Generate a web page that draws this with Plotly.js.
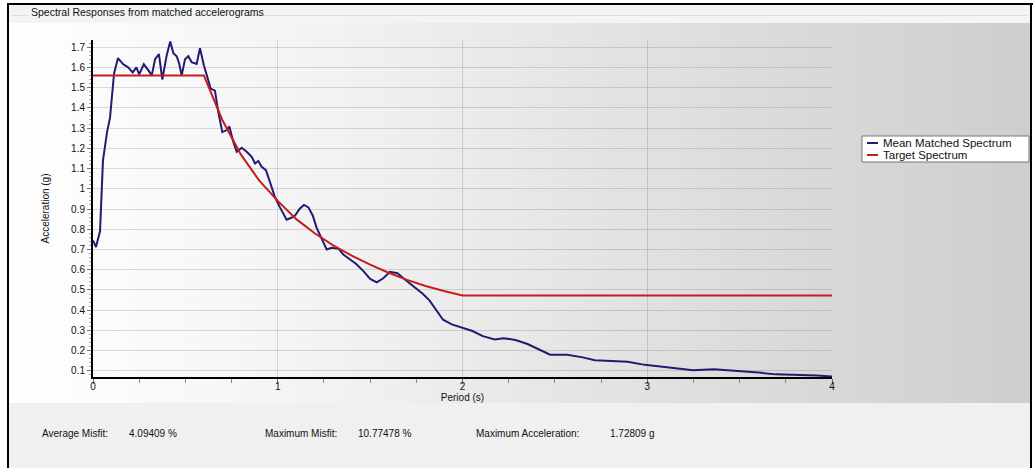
<!DOCTYPE html>
<html>
<head>
<meta charset="utf-8">
<script src="https://cdn.plot.ly/plotly-3.0.1.min.js"></script>
<style>
html,body{margin:0;padding:0;width:1033px;height:468px;overflow:hidden;background:#ffffff;}
.abs{position:absolute;}
#hdr{left:9px;top:5px;width:1021px;height:18px;background:#f4f4f4;}
#gbl1{left:12px;top:15px;width:16px;height:1px;background:#dcdcdc;}
#gbl2{left:247px;top:15px;width:780px;height:1px;background:#dcdcdc;}
#mid{left:9px;top:23px;width:1021px;height:380px;background:linear-gradient(to right,#ffffff 0%,#f3f3f3 30%,#dddddd 70%,#cecece 100%);}
#bot{left:9px;top:403px;width:1021px;height:65px;background:#f0f0f0;}
#btop{left:7px;top:3px;width:1026px;height:2px;background:#000;}
#bleft{left:7px;top:3px;width:2px;height:465px;background:#000;}
#bright{left:1030px;top:3px;width:2px;height:465px;background:#000;}
#chart{position:absolute;left:0;top:0;width:1033px;height:468px;}
</style>
</head>
<body>
<div class="abs" id="hdr"></div>
<div class="abs" id="gbl1"></div>
<div class="abs" id="gbl2"></div>
<div class="abs" id="mid"></div>
<div class="abs" id="bot"></div>
<div class="abs" id="btop"></div>
<div class="abs" id="bleft"></div>
<div class="abs" id="bright"></div>
<div id="chart"></div>
<script>
// Mean matched spectrum (period in s, acceleration in g)
const meanPeriod = [0.00,0.016,0.038,0.054,0.076,0.092,0.114,0.135,0.164,0.19,0.215,0.235,0.25,0.275,0.30,0.318,0.336,0.357,0.375,0.399,0.418,0.435,0.453,0.466,0.48,0.498,0.516,0.534,0.561,0.579,0.60,0.624,0.637,0.66,0.678,0.70,0.724,0.738,0.76,0.778,0.805,0.832,0.859,0.877,0.895,0.913,0.936,0.958,0.985,1.012,1.048,1.076,1.093,1.12,1.142,1.166,1.19,1.21,1.238,1.265,1.292,1.33,1.355,1.39,1.425,1.465,1.50,1.536,1.571,1.608,1.648,1.69,1.737,1.783,1.82,1.858,1.895,1.942,2.00,2.054,2.11,2.175,2.222,2.287,2.352,2.408,2.474,2.567,2.651,2.716,2.80,2.894,2.987,3.08,3.155,3.248,3.36,3.491,3.603,3.696,3.827,3.92,4.00];
const meanAccel = [0.745,0.712,0.79,1.14,1.28,1.35,1.57,1.645,1.615,1.60,1.575,1.60,1.565,1.615,1.585,1.56,1.64,1.665,1.54,1.66,1.728,1.67,1.655,1.62,1.56,1.64,1.655,1.625,1.617,1.695,1.61,1.53,1.495,1.485,1.38,1.28,1.29,1.308,1.23,1.183,1.203,1.183,1.158,1.125,1.137,1.108,1.092,1.033,0.958,0.908,0.847,0.858,0.867,0.903,0.92,0.908,0.867,0.808,0.75,0.70,0.708,0.703,0.675,0.65,0.628,0.592,0.555,0.538,0.558,0.59,0.583,0.55,0.517,0.483,0.45,0.40,0.353,0.33,0.313,0.297,0.272,0.255,0.262,0.253,0.233,0.208,0.18,0.18,0.167,0.153,0.15,0.145,0.13,0.12,0.113,0.103,0.108,0.10,0.092,0.083,0.08,0.078,0.072];

// Target spectrum
const targetPeriod = [0.00,0.60,0.70,0.80,0.90,1.00,1.10,1.20,1.30,1.40,1.50,1.60,1.70,1.80,1.90,2.00,4.00];
const targetAccel  = [1.56,1.56,1.34,1.17,1.04,0.94,0.85,0.78,0.72,0.67,0.625,0.585,0.55,0.52,0.495,0.473,0.473];

// Axis ticks
const xTicks = [0,1,2,3,4];
const xTickText = ['0','1','2','3','4'];
const yTicks = [0.1,0.2,0.3,0.4,0.5,0.6,0.7,0.8,0.9,1.0,1.1,1.2,1.3,1.4,1.5,1.6,1.7];
const yTickText = ['0.1','0.2','0.3','0.4','0.5','0.6','0.7','0.8','0.9','1','1.1','1.2','1.3','1.4','1.5','1.6','1.7'];

// Series names and colours
const seriesNames = ['Mean Matched Spectrum','Target Spectrum'];
const seriesColors = ['#251a70','#c41d1d'];

// Summary statistics
const statLabels = ['Average Misfit:','Maximum Misfit:','Maximum Acceleration:'];
const statValues = ['4.09409 %','10.77478 %','1.72809 g'];

const FONT = 'Liberation Sans, Arial, sans-serif';
const W = 1033, H = 468;
const L = 93, R = 832, T = 40, B = 377;
const px = x => (x - L) / (R - L);
const py = y => (B - y) / (B - T);

const traces = [
  {x: meanPeriod, y: meanAccel, type:'scatter', mode:'lines', name:seriesNames[0],
   line:{color:seriesColors[0], width:2}},
  {x: targetPeriod, y: targetAccel, type:'scatter', mode:'lines', name:seriesNames[1],
   line:{color:seriesColors[1], width:2}}
];

const annotations = [];
const shapes = [];

// stats row
const statLabelX = [40, 263, 474];
const statValueX = [127, 356, 608];
statLabels.forEach((s,i)=>{
  annotations.push({text:s, xref:'paper', yref:'paper', x:px(statLabelX[i]), y:py(433),
    xanchor:'left', yanchor:'middle', showarrow:false, font:{family:FONT, size:10, color:'#111'}});
  annotations.push({text:statValues[i], xref:'paper', yref:'paper', x:px(statValueX[i]), y:py(433),
    xanchor:'left', yanchor:'middle', showarrow:false, font:{family:FONT, size:10, color:'#111'}});
});

// compact legend box
shapes.push({type:'rect', xref:'paper', yref:'paper', x0:px(862), x1:px(1029), y0:py(162), y1:py(136),
  fillcolor:'#ffffff', line:{color:'#777', width:1}, layer:'above'});
const legY = [143, 155];
seriesNames.forEach((n,i)=>{
  shapes.push({type:'line', xref:'paper', yref:'paper', x0:px(867), x1:px(878), y0:py(legY[i]), y1:py(legY[i]),
    line:{color:seriesColors[i], width:2}, layer:'above'});
  annotations.push({text:n, xref:'paper', yref:'paper', x:px(881), y:py(legY[i]),
    xanchor:'left', yanchor:'middle', showarrow:false, font:{family:FONT, size:11.5, color:'#111'}});
});

const layout = {
  width: W, height: H,
  margin: {l:L, r:W-R, t:T, b:H-B, pad:0},
  paper_bgcolor:'rgba(0,0,0,0)', plot_bgcolor:'rgba(0,0,0,0)',
  font:{family:FONT, size:10, color:'#111'},
  title:{text:'Spectral Responses from matched accelerograms', xref:'container', yref:'container',
    x:31/W, xanchor:'left', y:1-12/H, yanchor:'middle', font:{family:FONT, size:10.5, color:'#111'}},
  xaxis:{range:[0,4], tickmode:'array', tickvals:xTicks, ticktext:xTickText,
    showgrid:true, gridcolor:'rgba(0,0,0,0.13)', gridwidth:1, zeroline:false,
    showline:true, linecolor:'#000', linewidth:2, ticks:'outside', ticklen:5, tickcolor:'#666',
    ticklabelstandoff:-6,
    minor:{tickmode:'linear', tick0:0, dtick:0.25, ticks:'outside', ticklen:4, tickcolor:'#888', showgrid:false},
    tickfont:{family:FONT, size:10, color:'#111'}, automargin:false,
    title:{text:'Period (s)', font:{family:FONT, size:10, color:'#111'}, standoff:0}},
  yaxis:{range:[0.07,1.735], tickmode:'array', tickvals:yTicks, ticktext:yTickText,
    showgrid:true, gridcolor:'rgba(0,0,0,0.13)', gridwidth:1, zeroline:false,
    showline:true, linecolor:'#000', linewidth:2, ticks:'outside', ticklen:4, tickcolor:'#777',
    minor:{tickmode:'linear', tick0:0.1, dtick:0.02, ticks:'outside', ticklen:2, tickcolor:'#aaa', showgrid:false},
    tickfont:{family:FONT, size:10, color:'#111'}, automargin:false,
    title:{text:'Acceleration (g)', font:{family:FONT, size:10, color:'#111'}, standoff:20}},
  showlegend:false,
  shapes: shapes,
  annotations: annotations
};

Plotly.newPlot('chart', traces, layout, {displayModeBar:false, staticPlot:true});
</script>
</body>
</html>
